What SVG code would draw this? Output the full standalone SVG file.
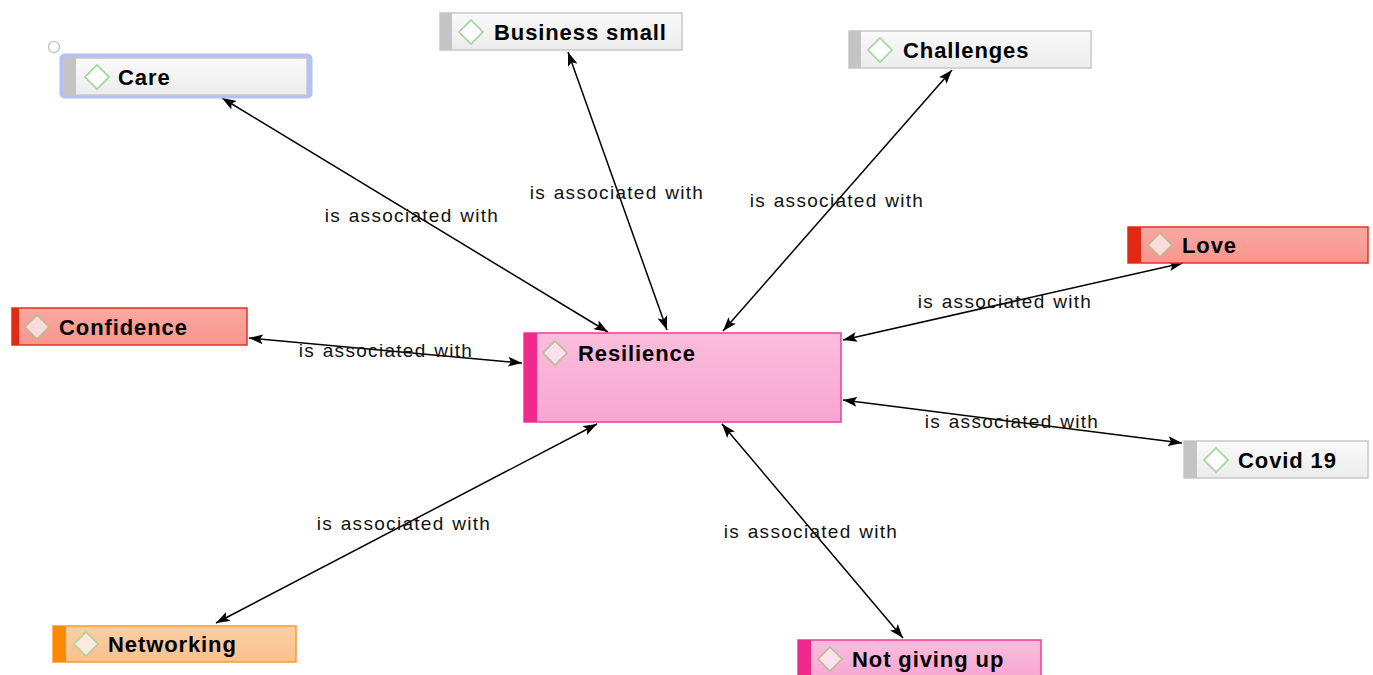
<svg xmlns="http://www.w3.org/2000/svg" width="1373" height="675" viewBox="0 0 1373 675">
  <defs>
    <linearGradient id="gGray" x1="0" y1="0" x2="0" y2="1">
      <stop offset="0" stop-color="#fafafa"/>
      <stop offset="1" stop-color="#ececec"/>
    </linearGradient>
    <linearGradient id="gRed" x1="0" y1="0" x2="0" y2="1">
      <stop offset="0" stop-color="#faa8a2"/>
      <stop offset="1" stop-color="#f8958d"/>
    </linearGradient>
    <linearGradient id="gPink" x1="0" y1="0" x2="0" y2="1">
      <stop offset="0" stop-color="#fabddc"/>
      <stop offset="1" stop-color="#f8a6d2"/>
    </linearGradient>
    <linearGradient id="gOrange" x1="0" y1="0" x2="0" y2="1">
      <stop offset="0" stop-color="#fbcfa4"/>
      <stop offset="1" stop-color="#f9c08e"/>
    </linearGradient>
    <marker id="arr" viewBox="0 0 14 10" refX="14" refY="5" markerWidth="14" markerHeight="10" markerUnits="userSpaceOnUse" orient="auto-start-reverse">
      <path d="M0,0 L14,5 L0,10 L3,5 Z" fill="#000"/>
    </marker>
  </defs>
  <style>
    .name { font-family: "Liberation Sans", Arial, sans-serif; font-weight: bold; font-size: 22px; letter-spacing: 0.9px; fill: #000; }
    .lbl { font-family: "Liberation Sans", Arial, sans-serif; font-size: 19px; letter-spacing: 1.3px; word-spacing: 1px; fill: #111; text-anchor: middle; }
    .edge { stroke: #000; stroke-width: 1.5; fill: none; marker-start: url(#arr); marker-end: url(#arr); }
    .gray .box { fill: url(#gGray); stroke: #c8c8c8; stroke-width: 1.5; }
    .gray .bar { fill: #c4c4c4; }
    .gray .dia { fill: #fff; stroke: #9ed69a; stroke-width: 1.6; }
    .red .box { fill: url(#gRed); stroke: #e4331f; stroke-width: 1.5; }
    .red .bar { fill: #e02a14; }
    .red .dia { fill: #fbdcdc; stroke: #bcb98a; stroke-width: 1.6; }
    .pink .box { fill: url(#gPink); stroke: #ec3d99; stroke-width: 1.5; }
    .pink .bar { fill: #f02a8c; }
    .pink .dia { fill: #fbe0ee; stroke: #b8bc92; stroke-width: 1.6; }
    .orange .box { fill: url(#gOrange); stroke: #fb9a2e; stroke-width: 1.5; }
    .orange .bar { fill: #ff8a00; }
    .orange .dia { fill: #fcebdc; stroke: #a8d49a; stroke-width: 1.6; }
  </style>

  <rect width="1373" height="675" fill="#fff"/>

  <!-- connectors -->
  <g id="connectors">
    <line class="edge" x1="222" y1="98" x2="608" y2="332"/>
    <line class="edge" x1="568" y1="52" x2="667" y2="330"/>
    <line class="edge" x1="952" y1="70" x2="723" y2="331"/>
    <line class="edge" x1="1183" y1="263" x2="843" y2="340"/>
    <line class="edge" x1="249" y1="338" x2="522" y2="363"/>
    <line class="edge" x1="843" y1="400" x2="1182" y2="443"/>
    <line class="edge" x1="216" y1="623" x2="597" y2="424"/>
    <line class="edge" x1="903" y1="638" x2="722" y2="424"/>
    <text class="lbl" x="412" y="222">is associated with</text>
    <text class="lbl" x="617" y="199">is associated with</text>
    <text class="lbl" x="837" y="207">is associated with</text>
    <text class="lbl" x="1005" y="308">is associated with</text>
    <text class="lbl" x="386" y="357">is associated with</text>
    <text class="lbl" x="1012" y="428">is associated with</text>
    <text class="lbl" x="404" y="530">is associated with</text>
    <text class="lbl" x="811" y="538">is associated with</text>
  </g>

  <!-- Care (selected) -->
  <g id="node-care" class="gray">
    <circle cx="54" cy="47" r="5.5" fill="#fff" stroke="#b8b8b8" stroke-width="1.2"/>
    <rect x="59.5" y="53.5" width="253" height="45" rx="5" fill="#b6c0f2"/>
    <rect class="box" x="64" y="58" width="243" height="37"/>
    <rect class="bar" x="64" y="58" width="12" height="37"/>
    <path class="dia" d="M97,65 L109,77 L97,89 L85,77 Z"/>
    <text class="name" x="118" y="85">Care</text>
  </g>

  <g id="node-business-small" class="gray">
    <rect class="box" x="440" y="13" width="242" height="37"/>
    <rect class="bar" x="440" y="13" width="12" height="37"/>
    <path class="dia" d="M471,20 L483,32 L471,44 L459,32 Z"/>
    <text class="name" x="494" y="40">Business small</text>
  </g>

  <g id="node-challenges" class="gray">
    <rect class="box" x="849" y="31" width="242" height="37"/>
    <rect class="bar" x="849" y="31" width="12" height="37"/>
    <path class="dia" d="M880,38 L892,50 L880,62 L868,50 Z"/>
    <text class="name" x="903" y="58">Challenges</text>
  </g>

  <g id="node-love" class="red">
    <rect class="box" x="1128" y="227" width="240" height="36"/>
    <rect class="bar" x="1128" y="227" width="13" height="36"/>
    <path class="dia" d="M1160,233 L1172,245 L1160,257 L1148,245 Z"/>
    <text class="name" x="1182" y="253">Love</text>
  </g>

  <g id="node-confidence" class="red">
    <rect class="box" x="12" y="308" width="235" height="37"/>
    <rect class="bar" x="12" y="308" width="7" height="37"/>
    <path class="dia" d="M37,315 L49,327 L37,339 L25,327 Z"/>
    <text class="name" x="59" y="335">Confidence</text>
  </g>

  <g id="node-resilience" class="pink">
    <rect class="box" x="524" y="333" width="317" height="89"/>
    <rect class="bar" x="524" y="333" width="13" height="89"/>
    <path class="dia" d="M555,341 L567,353 L555,365 L543,353 Z"/>
    <text class="name" x="578" y="361">Resilience</text>
  </g>

  <g id="node-covid-19" class="gray">
    <rect class="box" x="1184" y="441" width="184" height="37"/>
    <rect class="bar" x="1184" y="441" width="13" height="37"/>
    <path class="dia" d="M1216,448 L1228,460 L1216,472 L1204,460 Z"/>
    <text class="name" x="1238" y="468">Covid 19</text>
  </g>

  <g id="node-networking" class="orange">
    <rect class="box" x="53" y="626" width="243" height="36"/>
    <rect class="bar" x="53" y="626" width="13" height="36"/>
    <path class="dia" d="M86,632 L98,644 L86,656 L74,644 Z"/>
    <text class="name" x="108" y="652">Networking</text>
  </g>

  <g id="node-not-giving-up" class="pink">
    <rect class="box" x="798" y="640" width="243" height="40"/>
    <rect class="bar" x="798" y="640" width="13" height="40"/>
    <path class="dia" d="M830,647 L842,659 L830,671 L818,659 Z"/>
    <text class="name" x="852" y="667">Not giving up</text>
  </g>
</svg>
